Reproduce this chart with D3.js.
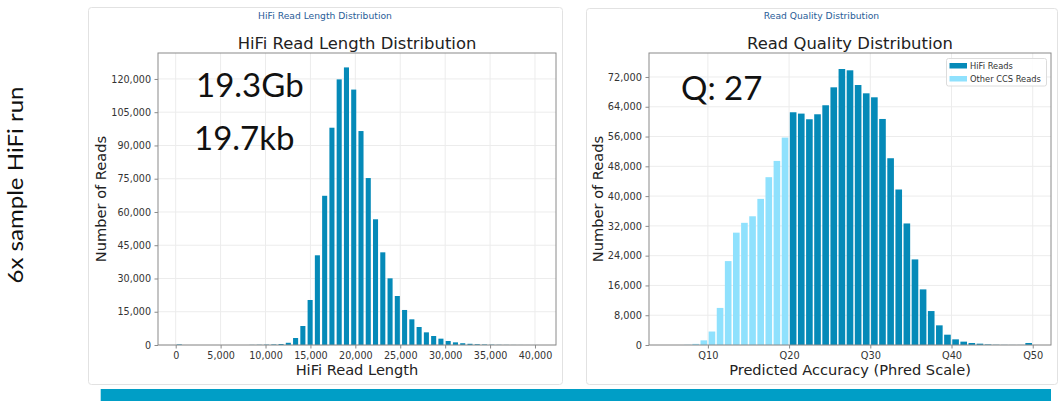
<!DOCTYPE html>
<html>
<head>
<meta charset="utf-8">
<script src="https://cdn.jsdelivr.net/npm/d3@7"></script>
<style>
  html, body { margin: 0; padding: 0; background: #fff; }
  svg { display: block; }
</style>
</head>
<body>
<svg id="chart" width="1059" height="401"></svg>
<script>
// ---- Read length histogram: 50 bins of 809 bp starting at 0 ----
const lengthBinStart = 0;
const lengthBinWidth = 809;
const lengthCounts = [
  250, 0, 0, 0, 0, 0, 0, 0, 0, 0,
  60, 100, 150, 250, 450, 1000, 3150, 8570, 20300, 40460,
  67300, 98000, 119800, 125200, 115200, 96500, 75300, 56700, 41800, 30070,
  22100, 15800, 11580, 8120, 5710, 4060, 2860, 1800, 1200, 800,
  550, 350, 220, 140, 80, 50, 30, 20, 10, 10
];
const lengthTicks = [0, 5000, 10000, 15000, 20000, 25000, 30000, 35000, 40000];
const lengthCountTicks = [0, 15000, 30000, 45000, 60000, 75000, 90000, 105000, 120000];

// ---- Read quality histogram: one bin per Phred unit ----
const otherCcsQ = [5, 6, 7, 8, 9, 10, 11, 12, 13, 14, 15, 16, 17, 18, 19];
const otherCcsCounts = [0, 0, 60, 300, 1250, 3620, 9960, 22540, 30180, 32820, 34580, 39250, 45080, 49450, 55720];
const hifiQ = [20, 21, 22, 23, 24, 25, 26, 27, 28, 29, 30, 31, 32, 33, 34,
               35, 36, 37, 38, 39, 40, 41, 42, 43, 44, 45, 46, 47, 48, 49];
const hifiCounts = [62520, 62160, 60640, 61980, 64400, 69220, 74140, 73790, 69840, 67610,
                    66540, 60720, 50170, 41770, 32650, 22990, 14940, 9120, 5280, 2770,
                    1520, 900, 540, 360, 150, 60, 30, 20, 20, 540];
const qualityTicks = [10, 20, 30, 40, 50];
const qualityTickLabels = ["Q10", "Q20", "Q30", "Q40", "Q50"];
const qualityCountTicks = [0, 8000, 16000, 24000, 32000, 40000, 48000, 56000, 64000, 72000];

const seriesNames = ["HiFi Reads", "Other CCS Reads"];
const yieldLabels = ["19.3Gb", "19.7kb"];
const qualityLabel = "Q: 27";
const runLabel = "6x sample HiFi run";
const panelTitles = ["HiFi Read Length Distribution", "Read Quality Distribution"];

// ---- styling ----
const COLOR_HIFI = "#058ab8";
const COLOR_OTHER = "#8fe1fd";
const GRID = "#ececec";
const SPINE = "#8a8a8a";
const AXIS_FONT = "'DejaVu Sans', sans-serif";
const BIG_FONT = "Lato, 'Open Sans', sans-serif";
const fmt = d3.format(",");

const svg = d3.select("#chart");

// cards behind each chart
const cards = [
  { x: 88, y: 7, w: 474, h: 377, title: panelTitles[0] },
  { x: 586, y: 8, w: 471, h: 376, title: panelTitles[1] }
];
cards.forEach(c => {
  svg.append("rect")
    .attr("x", c.x + 0.5).attr("y", c.y + 0.5)
    .attr("width", c.w).attr("height", c.h)
    .attr("rx", 3)
    .attr("fill", "#fff").attr("stroke", "#e2e2e2");
  svg.append("text")
    .attr("x", c.x + c.w / 2).attr("y", 19)
    .attr("text-anchor", "middle")
    .attr("font-family", AXIS_FONT).attr("font-size", 9.2)
    .attr("fill", "#2a5d98")
    .text(c.title);
});

// bottom accent strip
svg.append("rect")
  .attr("x", 100.7).attr("y", 389).attr("width", 950.3).attr("height", 12)
  .attr("fill", "#009ec6");

// vertical run label
svg.append("text")
  .attr("transform", "translate(23,185) rotate(-90)")
  .attr("text-anchor", "middle")
  .attr("font-family", BIG_FONT).attr("font-size", 21)
  .attr("fill", "#111")
  .attr("textLength", 197).attr("lengthAdjust", "spacingAndGlyphs")
  .text(runLabel);

// grid, title and axis titles of one chart
function drawFrame(g, x, y, xTicks, yTicks, plot, titleText, xLabel, yLabelX) {
  g.append("g").selectAll("line").data(xTicks).join("line")
    .attr("x1", d => x(d)).attr("x2", d => x(d))
    .attr("y1", plot.top).attr("y2", plot.bottom)
    .attr("stroke", GRID).attr("stroke-width", 1);
  g.append("g").selectAll("line").data(yTicks).join("line")
    .attr("x1", plot.left).attr("x2", plot.right)
    .attr("y1", d => y(d)).attr("y2", d => y(d))
    .attr("stroke", GRID).attr("stroke-width", 1);

  g.append("text")
    .attr("x", (plot.left + plot.right) / 2).attr("y", 49.3)
    .attr("text-anchor", "middle")
    .attr("font-family", AXIS_FONT).attr("font-size", 16.4)
    .attr("fill", "#222")
    .text(titleText);

  g.append("text")
    .attr("x", (plot.left + plot.right) / 2).attr("y", 375)
    .attr("text-anchor", "middle")
    .attr("font-family", AXIS_FONT).attr("font-size", 14.6)
    .attr("fill", "#222")
    .text(xLabel);
  g.append("text")
    .attr("transform", `translate(${yLabelX},${(plot.top + plot.bottom) / 2}) rotate(-90)`)
    .attr("text-anchor", "middle")
    .attr("font-family", AXIS_FONT).attr("font-size", 14.6)
    .attr("fill", "#222")
    .text("Number of Reads");
}

// tick marks, tick labels and the frame around the plot area
function drawAxes(g, x, y, xTicks, xFormat, yTicks, plot, tickFont) {
  const xAxis = d3.axisBottom(x).tickValues(xTicks).tickFormat(xFormat)
    .tickSize(3.5).tickPadding(3.5).tickSizeOuter(0);
  const yAxis = d3.axisLeft(y).tickValues(yTicks).tickFormat(fmt)
    .tickSize(3.5).tickPadding(3.5).tickSizeOuter(0);
  const gx = g.append("g").attr("transform", `translate(0,${plot.bottom})`).call(xAxis);
  const gy = g.append("g").attr("transform", `translate(${plot.left},0)`).call(yAxis);
  [gx, gy].forEach(a => {
    a.select(".domain").remove();
    a.selectAll(".tick line").attr("stroke", SPINE);
    a.selectAll(".tick text")
      .attr("font-family", AXIS_FONT).attr("font-size", tickFont).attr("fill", "#333");
  });
  g.append("rect")
    .attr("x", plot.left).attr("y", plot.top)
    .attr("width", plot.right - plot.left).attr("height", plot.bottom - plot.top)
    .attr("fill", "none").attr("stroke", SPINE).attr("stroke-width", 1);
}

// ---------------- Left: read length ----------------
{
  const plot = { left: 158, right: 556, top: 53, bottom: 345 };
  const x = d3.scaleLinear().domain([-1970, 42340]).range([plot.left, plot.right]);
  const y = d3.scaleLinear().domain([0, 131700]).range([plot.bottom, plot.top]);
  const g = svg.append("g");
  drawFrame(g, x, y, lengthTicks, lengthCountTicks, plot,
            panelTitles[0], "HiFi Read Length", 106);

  const bins = lengthCounts.map((c, i) => ({
    x0: lengthBinStart + i * lengthBinWidth,
    x1: lengthBinStart + (i + 1) * lengthBinWidth,
    count: c
  }));
  const gap = 2.2;
  g.append("g").selectAll("rect").data(bins.filter(b => b.count > 0)).join("rect")
    .attr("x", d => x(d.x0) + gap / 2)
    .attr("width", d => x(d.x1) - x(d.x0) - gap)
    .attr("y", d => y(d.count))
    .attr("height", d => y(0) - y(d.count))
    .attr("fill", COLOR_HIFI);

  drawAxes(g, x, y, lengthTicks, fmt, lengthCountTicks, plot, 9.6);

  svg.append("text").attr("x", 196).attr("y", 97.3)
    .attr("font-family", BIG_FONT).attr("font-size", 33).attr("fill", "#111")
    .text(yieldLabels[0]);
  svg.append("text").attr("x", 194).attr("y", 150)
    .attr("font-family", BIG_FONT).attr("font-size", 33).attr("fill", "#111")
    .text(yieldLabels[1]);
}

// ---------------- Right: read quality ----------------
{
  const plot = { left: 649, right: 1051, top: 53, bottom: 345 };
  const x = d3.scaleLinear().domain([2.75, 52.25]).range([plot.left, plot.right]);
  const y = d3.scaleLinear().domain([0, 78440]).range([plot.bottom, plot.top]);
  const g = svg.append("g");
  drawFrame(g, x, y, qualityTicks, qualityCountTicks, plot,
            panelTitles[1], "Predicted Accuracy (Phred Scale)", 603);

  const gap = 1.5;
  const series = [
    { q: otherCcsQ, counts: otherCcsCounts, color: COLOR_OTHER },
    { q: hifiQ, counts: hifiCounts, color: COLOR_HIFI }
  ];
  series.forEach(s => {
    const data = s.q.map((q, i) => ({ q, count: s.counts[i] })).filter(d => d.count > 0);
    g.append("g").selectAll("rect").data(data).join("rect")
      .attr("x", d => x(d.q) + gap / 2)
      .attr("width", d => x(d.q + 1) - x(d.q) - gap)
      .attr("y", d => y(d.count))
      .attr("height", d => y(0) - y(d.count))
      .attr("fill", s.color);
  });

  drawAxes(g, x, y, qualityTicks, (d, i) => qualityTickLabels[i], qualityCountTicks, plot, 9.8);

  // legend
  const lg = g.append("g");
  lg.append("rect").attr("x", 946.5).attr("y", 58.5).attr("width", 100).attr("height", 27.5)
    .attr("rx", 2).attr("fill", "#fff").attr("fill-opacity", 0.85).attr("stroke", "#dcdcdc");
  [COLOR_HIFI, COLOR_OTHER].forEach((c, i) => {
    lg.append("rect").attr("x", 949.5).attr("y", 63 + i * 13).attr("width", 17.5).attr("height", 5.5)
      .attr("fill", c);
    lg.append("text").attr("x", 970).attr("y", 68.5 + i * 13)
      .attr("font-family", AXIS_FONT).attr("font-size", 8.3).attr("fill", "#333")
      .text(seriesNames[i]);
  });

  svg.append("text").attr("x", 681).attr("y", 100)
    .attr("font-family", BIG_FONT).attr("font-size", 33).attr("fill", "#111")
    .text(qualityLabel);
}
</script>
</body>
</html>
